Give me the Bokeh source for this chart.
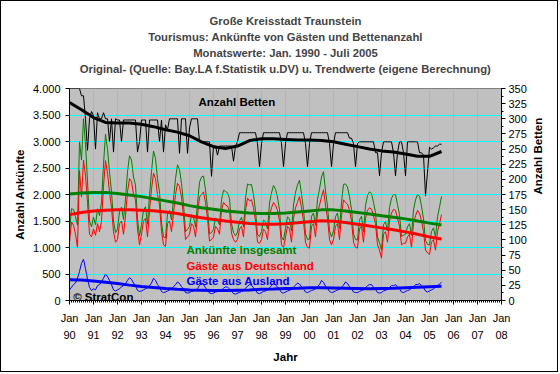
from math import pi
from bokeh.plotting import figure
from bokeh.models import Range1d, LinearAxis, SingleIntervalTicker, FixedTicker, Title
from bokeh.core.properties import value
from bokeh.embed import file_html
from bokeh.resources import INLINE

FONT = "Liberation Sans"

title_lines = [
    "Große Kreisstadt Traunstein",
    "Tourismus: Ankünfte von Gästen und Bettenanzahl",
    "Monatswerte: Jan. 1990 - Juli 2005",
    "Original- (Quelle: Bay.LA f.Statistik u.DV) u. Trendwerte (eigene Berechnung)",
]
y_left_title = "Anzahl Ankünfte"
y_right_title = "Anzahl Betten"
x_title = "Jahr"

start_year = 1990
years = list(range(1990, 2009))
year_labels = ["Jan\n90", "Jan\n91", "Jan\n92", "Jan\n93", "Jan\n94", "Jan\n95", "Jan\n96",
               "Jan\n97", "Jan\n98", "Jan\n99", "Jan\n00", "Jan\n01", "Jan\n02", "Jan\n03",
               "Jan\n04", "Jan\n05", "Jan\n06", "Jan\n07", "Jan\n08"]
left_ticks = [0, 500, 1000, 1500, 2000, 2500, 3000, 3500, 4000]
left_labels = ["0", "500", "1.000", "1.500", "2.000", "2.500", "3.000", "3.500", "4.000"]

# monthly values Jan 1990 .. Jul 2005
betten = [
    350, 350, 350, 350, 350, 350, 338, 338, 300, 248, 300, 312,
    305, 250, 310, 300, 300, 310, 300, 300, 262, 300, 245, 300,
    298, 298, 262, 298, 298, 298, 298, 298, 298, 298, 245, 262,
    298, 298, 298, 245, 298, 298, 298, 298, 298, 262, 298, 245,
    290, 282, 300, 300, 300, 300, 300, 243, 300, 300, 300, 243,
    285, 300, 300, 300, 300, 262, 262, 262, 262, 262, 262, 205,
    255, 255, 240, 255, 255, 255, 255, 255, 255, 255, 230, 255,
    262, 277, 277, 277, 277, 277, 277, 277, 277, 277, 259, 221,
    259, 277, 277, 277, 277, 277, 277, 277, 277, 277, 259, 221,
    259, 277, 277, 277, 277, 277, 277, 277, 277, 277, 259, 221,
    259, 277, 277, 277, 277, 277, 277, 277, 277, 277, 259, 221,
    259, 277, 277, 277, 277, 277, 277, 277, 268, 268, 259, 221,
    259, 262, 262, 262, 262, 262, 262, 262, 262, 244, 244, 206,
    244, 262, 262, 262, 262, 262, 244, 206, 244, 262, 262, 244,
    206, 262, 262, 262, 262, 262, 262, 244, 244, 240, 173, 212,
    253, 250, 252, 255, 255, 258, 258,
]
insgesamt = [
    1300, 1730, 1720, 1580, 1420, 3000, 2650, 3430, 2950, 2250, 1500, 1390,
    1570, 1430, 1730, 1600, 1850, 2570, 3140, 2850, 2430, 2050, 1500, 1280,
    1350, 1670, 1760, 1530, 1920, 2430, 2730, 2650, 2330, 2180, 1540, 1220,
    1430, 1700, 1770, 1440, 1980, 2430, 2820, 2680, 2300, 2050, 1470, 1200,
    1180, 1630, 1700, 1520, 1910, 2300, 2560, 2470, 2210, 1820, 1300, 1340,
    1400, 1620, 1580, 1390, 1830, 2230, 2330, 2350, 2090, 1750, 1260, 1280,
    1340, 1560, 1520, 1430, 1900, 2080, 2060, 2030, 1920, 1450, 1280, 1220,
    1290, 1500, 1570, 1390, 1930, 2200, 2180, 2190, 1990, 1700, 1240, 1210,
    1300, 1520, 1480, 1350, 1840, 2030, 2170, 2100, 1950, 1710, 1200, 1140,
    1360, 1580, 1540, 1310, 1800, 2040, 2180, 2270, 2010, 1720, 1260, 1150,
    1160, 1590, 1650, 1420, 1910, 2100, 2330, 2430, 2070, 1780, 1320, 1200,
    1310, 1580, 1650, 1360, 1850, 2190, 2200, 2140, 1960, 1720, 1260, 1150,
    1140, 1520, 1590, 1300, 1790, 1980, 2050, 2020, 1850, 1660, 1200, 1090,
    950, 1430, 1490, 1310, 1750, 1930, 2000, 2000, 1810, 1620, 1210, 1230,
    1250, 1390, 1450, 1230, 1710, 1900, 2000, 1970, 1780, 1540, 1130, 1060,
    1050, 1300, 1370, 1200, 1580, 1760, 1965,
]
deutschland = [
    1100, 1480, 1420, 1250, 1000, 2450, 1950, 2650, 2350, 1850, 1250, 1200,
    1350, 1230, 1450, 1300, 1500, 2150, 2640, 2400, 2050, 1750, 1300, 1100,
    1150, 1450, 1500, 1250, 1600, 2050, 2300, 2250, 2000, 1900, 1350, 1050,
    1250, 1500, 1550, 1200, 1700, 2100, 2400, 2300, 2000, 1800, 1300, 1050,
    1020, 1450, 1500, 1300, 1650, 2000, 2210, 2150, 1950, 1600, 1150, 1200,
    1250, 1450, 1400, 1200, 1600, 1950, 2000, 2050, 1850, 1550, 1120, 1150,
    1200, 1400, 1350, 1250, 1700, 1850, 1800, 1780, 1700, 1270, 1150, 1100,
    1150, 1350, 1400, 1200, 1700, 1930, 1880, 1900, 1750, 1500, 1100, 1080,
    1150, 1350, 1300, 1150, 1600, 1750, 1850, 1800, 1700, 1500, 1050, 1000,
    1200, 1400, 1350, 1100, 1550, 1750, 1850, 1960, 1750, 1500, 1100, 1000,
    990, 1400, 1450, 1200, 1650, 1800, 1950, 2090, 1800, 1550, 1150, 1050,
    1150, 1400, 1450, 1150, 1600, 1900, 1850, 1820, 1700, 1500, 1100, 1000,
    990, 1350, 1400, 1100, 1550, 1700, 1750, 1720, 1600, 1450, 1050, 950,
    800, 1250, 1300, 1100, 1500, 1650, 1720, 1700, 1550, 1400, 1050, 1080,
    1080, 1200, 1250, 1000, 1450, 1600, 1700, 1650, 1500, 1300, 950, 900,
    870, 1100, 1150, 950, 1300, 1450, 1620,
]
ausland = [
    200, 250, 300, 330, 420, 550, 700, 780, 600, 400, 250, 190,
    220, 200, 280, 300, 350, 420, 500, 450, 380, 300, 200, 180,
    200, 220, 260, 280, 320, 380, 430, 400, 330, 280, 190, 170,
    180, 200, 220, 240, 280, 330, 420, 380, 300, 250, 170, 150,
    160, 180, 200, 220, 260, 300, 350, 320, 260, 220, 150, 140,
    150, 170, 180, 190, 230, 280, 330, 300, 240, 200, 140, 130,
    140, 160, 170, 180, 200, 230, 260, 250, 220, 180, 130, 120,
    140, 150, 170, 190, 230, 270, 300, 290, 240, 200, 140, 130,
    150, 170, 180, 200, 240, 280, 320, 300, 250, 210, 150, 140,
    160, 180, 190, 210, 250, 290, 330, 310, 260, 220, 160, 150,
    170, 190, 200, 220, 260, 300, 380, 340, 270, 230, 170, 150,
    160, 180, 200, 210, 250, 290, 350, 320, 260, 220, 160, 150,
    150, 170, 190, 200, 240, 280, 300, 300, 250, 210, 150, 140,
    150, 180, 190, 210, 250, 280, 280, 300, 260, 220, 160, 150,
    170, 190, 200, 230, 260, 300, 300, 320, 280, 240, 180, 160,
    180, 200, 220, 250, 280, 310, 345,
]

# trend values (half-year points)
trend_t = [1990.0, 1990.5, 1991.0, 1991.5, 1992.0, 1992.5, 1993.0, 1993.5,
           1994.0, 1994.5, 1995.0, 1995.5, 1996.0, 1996.5, 1997.0, 1997.5,
           1998.0, 1998.5, 1999.0, 1999.5, 2000.0, 2000.5, 2001.0, 2001.5,
           2002.0, 2002.5, 2003.0, 2003.5, 2004.0, 2004.5, 2005.0, 2005.5]
betten_trend = [327, 315, 302, 294, 293, 293, 291, 287, 282, 278, 272, 262,
                254, 251, 255, 264, 267, 267, 266, 265, 265, 264, 262, 258,
                254, 250, 247, 245, 242, 238, 238, 246]
insgesamt_trend = [2010, 2030, 2040, 2040, 2020, 1990, 1960, 1920, 1880, 1840,
                   1790, 1750, 1720, 1690, 1670, 1650, 1640, 1640, 1650, 1670,
                   1690, 1710, 1710, 1690, 1660, 1630, 1600, 1570, 1540, 1500,
                   1460, 1425]
deutschland_trend = [1620, 1660, 1690, 1705, 1710, 1710, 1705, 1695, 1670, 1640,
                     1600, 1560, 1530, 1500, 1475, 1455, 1440, 1440, 1450, 1465,
                     1485, 1505, 1495, 1470, 1440, 1405, 1370, 1335, 1295, 1250,
                     1200, 1160]
ausland_trend = [390, 385, 370, 345, 320, 290, 265, 245, 225, 210, 200, 195,
                 190, 190, 195, 200, 210, 215, 225, 230, 240, 240, 235, 230,
                 225, 220, 225, 230, 240, 250, 260, 270]

series_labels = ["Ankünfte Insgesamt", "Gäste aus Deutschland", "Gäste aus Ausland"]
GREEN, RED, BLUE, BLACK = "#008000", "#FF0000", "#0000FF", "#000000"

months = [start_year + i / 12 for i in range(len(betten))]

p = figure(width=558, height=372, x_range=Range1d(1990, 2008), y_range=Range1d(0, 4000),
           output_backend="svg", toolbar_location=None, title=None,
           min_border_left=68, min_border_right=58, min_border_top=87, min_border_bottom=73)
p.styles = {"border": "1px solid black"}
p.extra_y_ranges = {"beds": Range1d(0, 350)}
p.background_fill_color = "#C0C0C0"
p.border_fill_color = "white"
p.outline_line_color = "#808080"

# titles: a blank spacer next to the frame, then the lines from bottom to top
p.add_layout(Title(text=" ", align="center", text_font=FONT, text_font_size="11.3px",
                   text_font_style="bold", standoff=-1.5), "above")
for line in reversed(title_lines):
    p.add_layout(Title(text=line, align="center", text_font=FONT, text_font_size="11.3px",
                       text_font_style="bold", standoff=2), "above")

xax = p.xaxis[0]
xax.ticker = SingleIntervalTicker(interval=1, num_minor_ticks=12)
xax.major_label_overrides = {y: l for y, l in zip(years, year_labels)}
yax = p.yaxis[0]
yax.ticker = FixedTicker(ticks=left_ticks)
yax.major_label_overrides = {t: l for t, l in zip(left_ticks, left_labels)}
rax = LinearAxis(y_range_name="beds", ticker=SingleIntervalTicker(interval=25, num_minor_ticks=2))
p.add_layout(rax, "right")

for ax in (xax, yax, rax):
    ax.axis_line_color = "black"
    ax.major_tick_line_color = "black"
    ax.minor_tick_line_color = "black"
    ax.major_tick_in = 0
    ax.major_tick_out = 4
    ax.minor_tick_in = 0
    ax.minor_tick_out = 2
    ax.major_label_text_font = FONT
    ax.major_label_text_font_size = "11px"
    ax.major_label_text_color = "black"
    ax.axis_label_text_font = FONT
    ax.axis_label_text_font_size = "11.5px"
    ax.axis_label_text_font_style = "bold"
    ax.axis_label_text_color = "black"
yax.minor_tick_out = 0
xax.major_label_standoff = 7
xax.major_label_text_line_height = 1.45
yax.major_label_standoff = 5
rax.major_label_standoff = 3
yax.axis_label = y_left_title
rax.axis_label = y_right_title
xax.axis_label = x_title
yax.axis_label_standoff = 4
rax.axis_label_standoff = 8
xax.axis_label_standoff = 7
try:
    rax.axis_label_orientation = pi / 2
except AttributeError:
    pass

p.xgrid.grid_line_color = "#00FFFF"
p.ygrid.grid_line_color = "#00FFFF"

# raw monthly series
p.line(months, betten, y_range_name="beds", line_color=BLACK, line_width=1)
p.line(months, insgesamt, line_color=GREEN, line_width=1)
p.line(months, deutschland, line_color=RED, line_width=1)
p.line(months, ausland, line_color=BLUE, line_width=1)
# trends
p.line(trend_t, betten_trend, y_range_name="beds", line_color=BLACK, line_width=3)
p.line(trend_t, insgesamt_trend, line_color=GREEN, line_width=3)
p.line(trend_t, deutschland_trend, line_color=RED, line_width=3)
p.line(trend_t, ausland_trend, line_color=BLUE, line_width=3)

# in-plot labels
p.text(x=[1995.375], y=[3741], text=[y_right_title], text_color=BLACK,
       text_font=value(FONT), text_font_size="11.5px", text_font_style="bold",
       text_baseline="middle", text_align="left")
for lab, col, yy in zip(series_labels, [GREEN, RED, BLUE], [962, 647, 364]):
    p.text(x=[1994.875], y=[yy], text=[lab], text_color=col,
           text_font=value(FONT), text_font_size="11.5px", text_font_style="bold",
           text_baseline="middle", text_align="left")
p.text(x=[1990.154], y=[62], text=["© StratCon"], text_color=BLACK,
       text_font=value(FONT), text_font_size="11.5px", text_font_style="bold",
       text_baseline="middle", text_align="left")

open("out.html", "w").write(file_html(p, INLINE))
